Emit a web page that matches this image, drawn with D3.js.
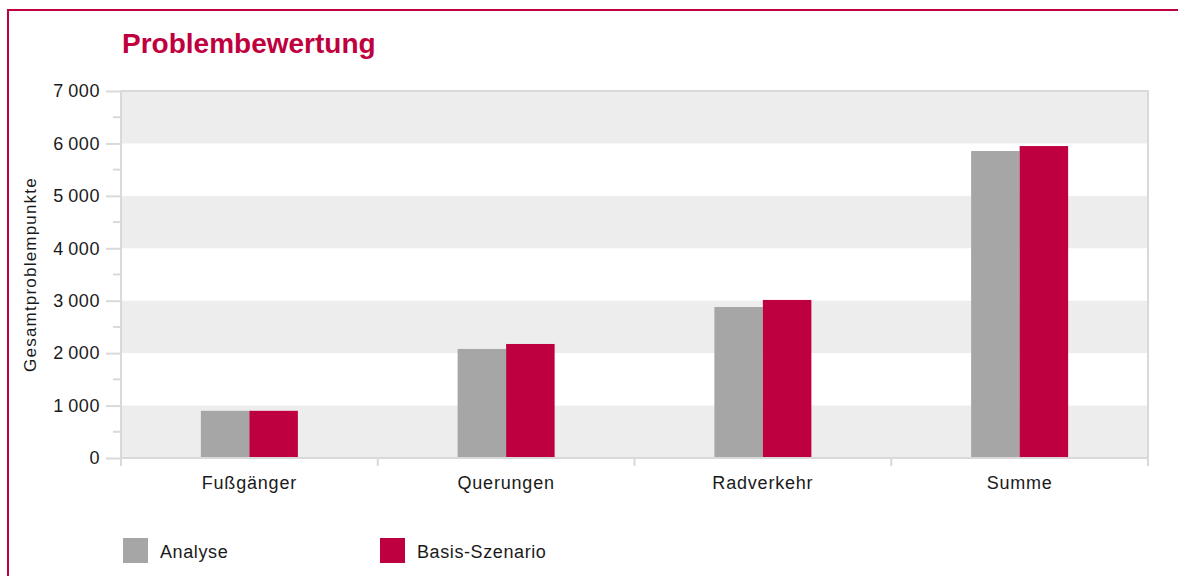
<!DOCTYPE html>
<html>
<head>
<meta charset="utf-8">
<script src="https://cdn.jsdelivr.net/npm/d3@7"></script>
<style>
  body { margin: 0; background: #fff; }
  svg { display: block; font-family: "Liberation Sans", Arial, sans-serif; }
</style>
</head>
<body>
<div id="chart"></div>
<script>
// --- data ---
const categories = ["Fußgänger", "Querungen", "Radverkehr", "Summe"];
const seriesNames = ["Analyse", "Basis-Szenario"];
const analyse = [900, 2080, 2880, 5855];
const basis = [900, 2175, 3015, 5950];
const yTicks = [0, 1000, 2000, 3000, 4000, 5000, 6000, 7000];
const yMinorTicks = [500, 1500, 2500, 3500, 4500, 5500, 6500];
const bands = [[0, 1000], [2000, 3000], [4000, 5000], [6000, 7000]];

const colors = { "Analyse": "#a6a6a6", "Basis-Szenario": "#be0040" };
const accent = "#c0003e";
const gridGrey = "#d9d9d9";

// --- layout ---
const W = 1178, H = 576;
const plot = { left: 121, right: 1148, top: 91, bottom: 458 };

const svg = d3.select("#chart").append("svg")
    .attr("width", W).attr("height", H);

// frame (red lines at top and left)
svg.append("line").attr("x1", 8).attr("x2", W).attr("y1", 10).attr("y2", 10)
    .attr("stroke", accent).attr("stroke-width", 2);
svg.append("line").attr("x1", 8).attr("x2", 8).attr("y1", 9).attr("y2", H)
    .attr("stroke", accent).attr("stroke-width", 2);

svg.append("text")
    .attr("x", 122).attr("y", 53)
    .attr("fill", accent)
    .attr("font-size", 28).attr("font-weight", "bold")
    .text("Problembewertung");

// --- scales ---
const y = d3.scaleLinear().domain([0, 7000]).range([plot.bottom, plot.top]);
const x0 = d3.scaleBand().domain(categories).range([plot.left, plot.right]);
const groupWidth = 97;
const x1 = d3.scaleBand().domain(seriesNames).range([0, groupWidth]);

// background bands
svg.append("g").selectAll("rect").data(bands).join("rect")
    .attr("x", plot.left)
    .attr("width", plot.right - plot.left)
    .attr("y", d => y(d[1]))
    .attr("height", d => y(d[0]) - y(d[1]))
    .attr("fill", "#ededed");

// plot border top/right
svg.append("line").attr("x1", plot.left).attr("x2", plot.right + 1)
    .attr("y1", plot.top).attr("y2", plot.top)
    .attr("stroke", gridGrey).attr("stroke-width", 2);
svg.append("line").attr("x1", plot.right).attr("x2", plot.right)
    .attr("y1", plot.top).attr("y2", plot.bottom + 8)
    .attr("stroke", gridGrey).attr("stroke-width", 2);

// bars
const rows = categories.map((c, i) => ({ cat: c, values: [
    { name: "Analyse", value: analyse[i] },
    { name: "Basis-Szenario", value: basis[i] }
]}));

svg.append("g").selectAll("g").data(rows).join("g")
    .attr("transform", d => `translate(${x0(d.cat) + (x0.bandwidth() - groupWidth) / 2},0)`)
  .selectAll("rect").data(d => d.values).join("rect")
    .attr("x", d => x1(d.name))
    .attr("width", x1.bandwidth())
    .attr("y", d => y(d.value))
    .attr("height", d => y(0) - y(d.value))
    .attr("fill", d => colors[d.name]);

// y axis
const fmt = v => d3.format(",")(v).replace(",", "\u2009");
const yAxis = svg.append("g").attr("transform", `translate(${plot.left},0)`)
    .call(d3.axisLeft(y).tickValues(yTicks).tickSize(15).tickPadding(6).tickFormat(fmt));
yAxis.select(".domain").remove();
yAxis.selectAll(".tick line").attr("stroke", gridGrey).attr("stroke-width", 2);
yAxis.selectAll(".tick text")
    .attr("font-size", 18).attr("fill", "#1a1a1a")
    .attr("font-family", "Liberation Sans, Arial, sans-serif")
    .attr("letter-spacing", 0.6);

svg.append("g").selectAll("line").data(yMinorTicks).join("line")
    .attr("x1", plot.left - 8).attr("x2", plot.left)
    .attr("y1", d => y(d)).attr("y2", d => y(d))
    .attr("stroke", gridGrey).attr("stroke-width", 2);

svg.append("line").attr("x1", plot.left).attr("x2", plot.left)
    .attr("y1", plot.top).attr("y2", plot.bottom + 8)
    .attr("stroke", gridGrey).attr("stroke-width", 2);

// x axis
const xAxis = svg.append("g").attr("transform", `translate(0,${plot.bottom})`)
    .call(d3.axisBottom(x0).tickSize(0).tickPadding(18));
xAxis.select(".domain").remove();
xAxis.selectAll(".tick text")
    .attr("font-size", 18).attr("fill", "#1a1a1a")
    .attr("font-family", "Liberation Sans, Arial, sans-serif")
    .attr("letter-spacing", 0.8);

svg.append("line").attr("x1", plot.left).attr("x2", plot.right)
    .attr("y1", plot.bottom).attr("y2", plot.bottom)
    .attr("stroke", gridGrey).attr("stroke-width", 2);

const boundaries = categories.map(c => x0(c)).concat([plot.right]);
svg.append("g").selectAll("line").data(boundaries).join("line")
    .attr("x1", d => d).attr("x2", d => d)
    .attr("y1", plot.bottom).attr("y2", plot.bottom + 8)
    .attr("stroke", gridGrey).attr("stroke-width", 2);

// y title
svg.append("text")
    .attr("transform", `translate(36,${(plot.top + plot.bottom) / 2}) rotate(-90)`)
    .attr("text-anchor", "middle")
    .attr("font-size", 17).attr("fill", "#1a1a1a")
    .attr("letter-spacing", 1.2)
    .text("Gesamtproblempunkte");

// legend
const legendX = [123, 380];
const legend = svg.append("g").selectAll("g").data(seriesNames).join("g")
    .attr("transform", (d, i) => `translate(${legendX[i]},538)`);
legend.append("rect").attr("width", 25).attr("height", 25)
    .attr("fill", d => colors[d]);
legend.append("text").attr("x", 37).attr("y", 20)
    .attr("font-size", 18).attr("fill", "#1a1a1a")
    .attr("letter-spacing", 0.6)
    .text(d => d);
</script>
</body>
</html>
